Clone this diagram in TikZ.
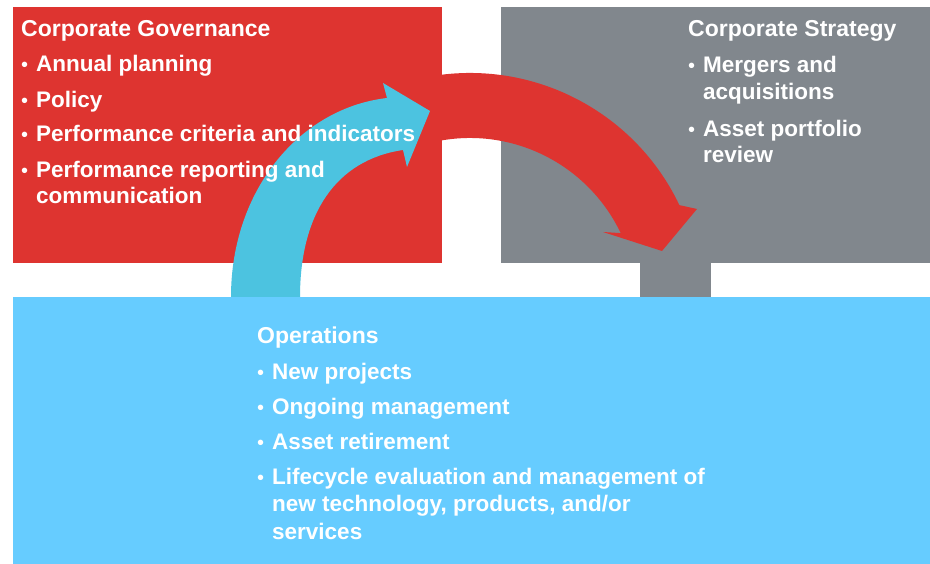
\documentclass[tikz,border=0pt]{standalone}
\usepackage{fontspec}
\setmainfont{Liberation Sans}
\definecolor{cgred}{HTML}{DE3430}
\definecolor{cggray}{HTML}{81878D}
\definecolor{opblue}{HTML}{66CCFF}
\definecolor{arrblue}{HTML}{4CC3E0}
\begin{document}
\begin{tikzpicture}[x=1pt,y=1pt,
  box/.style={inner sep=0, outer sep=0, anchor=south west},
  txt/.style={text=white, font=\fontsize{22.5}{26}\selectfont\bfseries, anchor=base west, inner sep=0},
  ttl/.style={text=white, font=\fontsize{23}{26}\selectfont\bfseries, anchor=base west, inner sep=0},
  bul/.style={text=white, font=\fontsize{20}{26}\selectfont, anchor=base west, inner sep=0}]
\useasboundingbox (0,0) rectangle (930,564);
\fill[white] (0,0) rectangle (930,564);
% boxes
\node[box, fill=cgred, minimum width=429, minimum height=256] (gov) at (12.5,300.5) {};
\node[box, fill=cggray, minimum width=429.5, minimum height=256] (strat) at (500.5,300.5) {};
\node[box, fill=cggray, minimum width=71, minimum height=36] (link) at (640,265) {};
\node[box, fill=opblue, minimum width=917.5, minimum height=267] (ops) at (12.5,0) {};
% red curved arrow
\fill[cgred, shift={(470,259)}] (105:232) arc[start angle=105, end angle=25.5, radius=232]
  -- (227,96) -- (192,54) -- (133,73) -- (25.5:167)
  arc[start angle=25.5, end angle=105, radius=167] -- cycle;
% blue curved arrow
\fill[arrblue] (231,267) .. controls (231,374) and (300,456) .. (387,466)
  -- (383,481) -- (430,453) -- (407,397) -- (403,414)
  .. controls (335,404) and (300,349) .. (300,267) -- cycle;
% texts: governance
\node[ttl] (govt) at (21,527.3) {Corporate Governance};
\node[bul] (gb1) at (21,492) {•}; \node[txt] (g1) at (36,492) {Annual planning};
\node[bul] (gb2) at (21,456) {•}; \node[txt] (g2) at (36,456) {Policy};
\node[bul] (gb3) at (21,422) {•}; \node[txt] (g3) at (36,422) {Performance criteria and indicators};
\node[bul] (gb4) at (21,386) {•}; \node[txt] (g4) at (36,386) {Performance reporting and};
\node[txt] (g4b) at (36,360) {communication};
% strategy
\node[ttl] (stt) at (688,527.3) {Corporate Strategy};
\node[bul] (sb1) at (688,491) {•}; \node[txt] (s1) at (703,491) {Mergers and};
\node[txt] (s1b) at (703,464) {acquisitions};
\node[bul] (sb2) at (688,427) {•}; \node[txt] (s2) at (703,427) {Asset portfolio};
\node[txt] (s2b) at (703,401) {review};
% operations
\node[ttl] (opt) at (257,220) {Operations};
\node[bul] (ob1) at (257,184) {•}; \node[txt] (o1) at (272,184) {New projects};
\node[bul] (ob2) at (257,149) {•}; \node[txt] (o2) at (272,149) {Ongoing management};
\node[bul] (ob3) at (257,114) {•}; \node[txt] (o3) at (272,114) {Asset retirement};
\node[bul] (ob4) at (257,79) {•}; \node[txt] (o4) at (272,79) {Lifecycle evaluation and management of};
\node[txt] (o4b) at (272,52) {new technology, products, and/or};
\node[txt] (o4c) at (272,24) {services};
\end{tikzpicture}
\end{document}
